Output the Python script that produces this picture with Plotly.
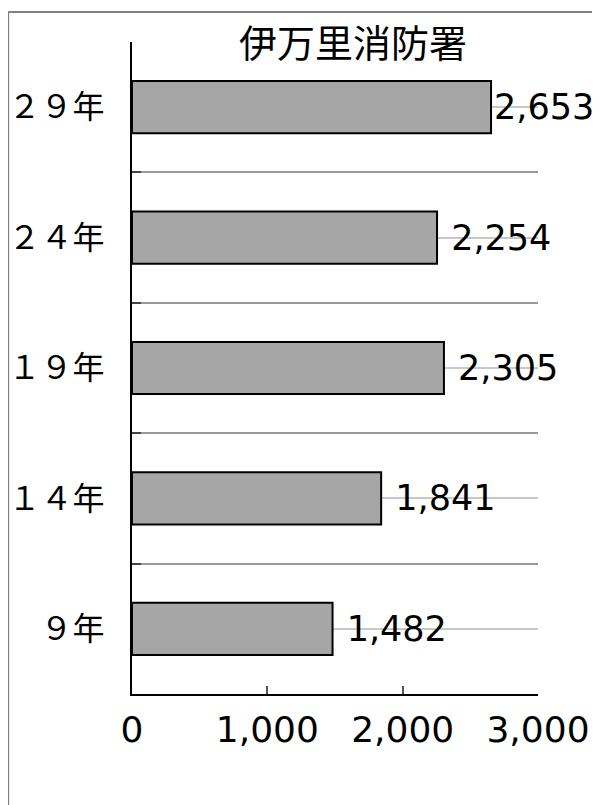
import plotly.graph_objects as go

categories = ["９年", "１４年", "１９年", "２４年", "２９年"]
values = [1482, 1841, 2305, 2254, 2653]
value_labels = ["1,482", "1,841", "2,305", "2,254", "2,653"]
x_tick_vals = [0, 1000, 2000, 3000]
x_tick_text = ["0", "1,000", "2,000", "3,000"]
title_text = "伊万里消防署"

CJK = "Noto Sans CJK JP"
NUM = "DejaVu Sans"
PAD = "\u00a0"
# the longest bar's label sits right against the bar end (as in the original)
label_templates = [PAD + "%{text}"] * (len(values) - 1) + ["%{text}"]

fig = go.Figure()
fig.add_trace(go.Bar(
    y=categories, x=values, orientation="h",
    marker=dict(color="#a6a6a6", line=dict(color="#000000", width=2)),
    width=0.4,
    text=value_labels, texttemplate=label_templates,
    textposition="outside", constraintext="none",
    textfont=dict(family=NUM, size=35, color="#000000"),
    cliponaxis=False, hoverinfo="skip",
))
# invisible trace for boundary gridlines
fig.add_trace(go.Bar(
    y=categories, x=values, orientation="h", yaxis="y2", opacity=0,
    marker=dict(color="rgba(0,0,0,0)", line=dict(width=0)),
    hoverinfo="skip", showlegend=False,
))

fig.update_layout(
    width=592, height=797,
    margin=dict(l=124, r=62, t=34, b=111, autoexpand=False),
    paper_bgcolor="white", plot_bgcolor="white",
    showlegend=False,
    xaxis=dict(
        range=[0, 3000], tickvals=x_tick_vals, ticktext=x_tick_text,
        showgrid=False, zeroline=False, automargin=False,
        showline=True, linecolor="#000000", linewidth=2,
        ticks="inside", ticklen=8, tickcolor="#555555", tickwidth=2,
        tickfont=dict(family=NUM, size=36, color="#000000"),
        ticklabelstandoff=3,
        fixedrange=True,
    ),
    yaxis=dict(
        type="category", categoryorder="array", categoryarray=categories,
        range=[-0.5, 4.5], automargin=False,
        showgrid=True, gridcolor="#c8c8c8", gridwidth=2,
        showline=True, linecolor="#000000", linewidth=2,
        ticks="", ticklabelstandoff=19,
        tickfont=dict(family=CJK, size=32, color="#000000"),
        fixedrange=True,
    ),
    yaxis2=dict(
        type="category", categoryorder="array", categoryarray=categories,
        range=[-0.5, 4.5], overlaying="y", side="left", automargin=False,
        tickson="boundaries", showgrid=True, gridcolor="#999999", gridwidth=2,
        ticks="inside", ticklen=9, tickcolor="#444444", tickwidth=2,
        showticklabels=False, showline=False, fixedrange=True,
    ),
    annotations=[dict(
        text=title_text, xref="paper", yref="paper",
        x=0.544, y=1.003, yanchor="middle", xanchor="center", showarrow=False,
        font=dict(family=CJK, size=38, color="#000000"),
    )],
    shapes=[
        dict(type="line", xref="paper", yref="paper", x0=-0.305, x1=1.2, y0=1.046, y1=1.046,
             line=dict(color="#808080", width=2)),
        dict(type="line", xref="paper", yref="paper", x0=-0.305, x1=-0.305, y0=1.046, y1=-0.2,
             line=dict(color="#808080", width=2)),
    ],
)

fig.write_html("out.html")
